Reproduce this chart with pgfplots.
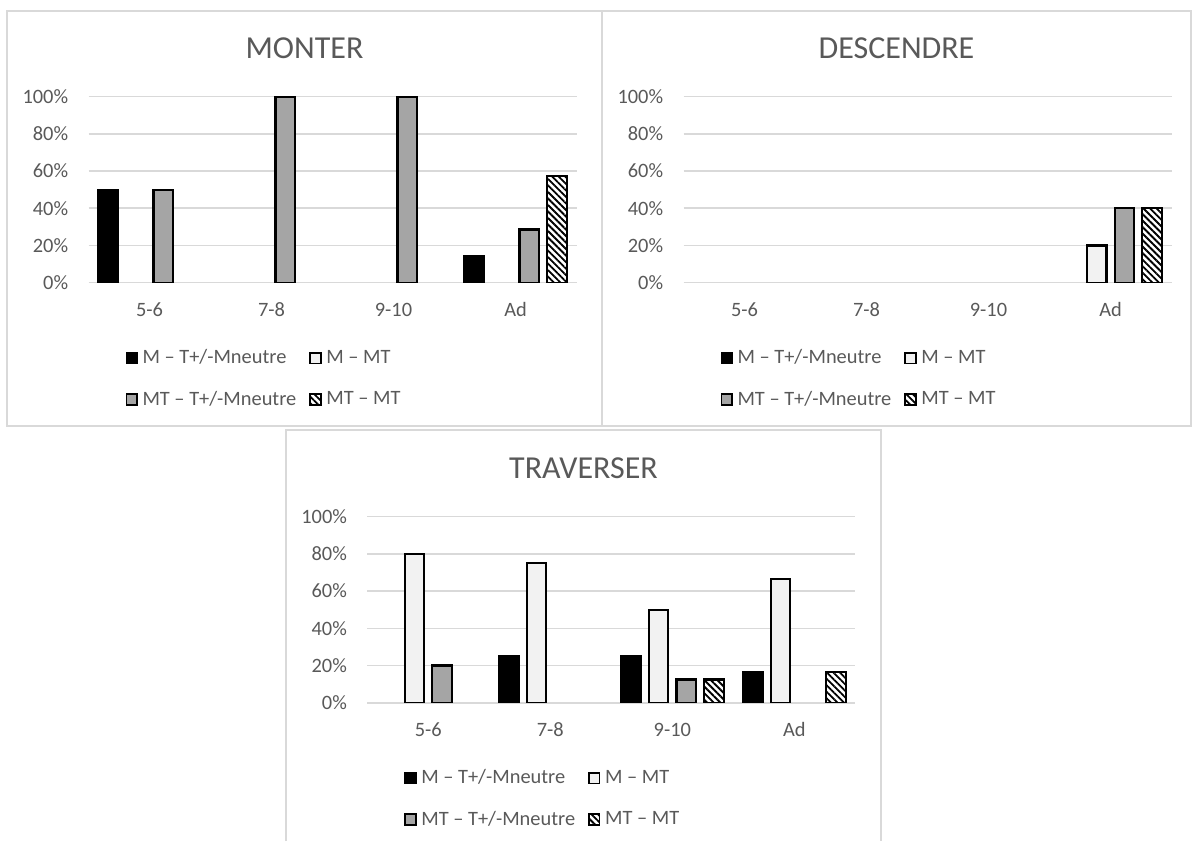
\documentclass[border=0pt]{standalone}
\usepackage{fontspec}
\setmainfont{Carlito}
\usepackage{pgfplots}
\pgfplotsset{compat=1.18}
\usepackage{pgfplotstable}
\usetikzlibrary{patterns.meta}
\definecolor{txt}{HTML}{595959}
\definecolor{grd}{HTML}{D9D9D9}
\definecolor{lgt}{HTML}{F2F2F2}
\definecolor{mid}{HTML}{A5A5A5}

\pgfplotstableread{
x a b c d
0 50 0 50 0
1 0 0 100 0
2 0 0 100 0
3 14.29 0 28.57 57.14
}\monter
\pgfplotstableread{
x a b c d
0 0 0 0 0
1 0 0 0 0
2 0 0 0 0
3 0 20 40 40
}\descendre
\pgfplotstableread{
x a b c d
0 0 80 20 0
1 25 75 0 0
2 25 50 12.5 12.5
3 16.67 66.67 0 16.67
}\traverser

\newcommand{\sm}{\fontsize{10.2bp}{12bp}\selectfont}
\pgfplotsset{
 panel/.style={
  scale only axis, width=244bp, height=93bp, anchor=south west,
  xmin=-0.5, xmax=3.5, ymin=0, ymax=100,
  axis line style={draw=none}, major tick length=0pt,
  xtick={0,1,2,3}, xticklabels={5-6,7-8,9-10,Ad},
  ytick={0,20,40,60,80,100}, yticklabels={0\%,20\%,40\%,60\%,80\%,100\%},
  ymajorgrids, grid style={grd, line width=0.8bp},
  tick label style={font=\sm, text=txt},
  yticklabel style={inner sep=0pt, anchor=east, xshift=-10bp},
  xticklabel style={inner sep=0pt, anchor=base, yshift=-16.9bp},
  unbounded coords=discard,
  restrict y to domain=0.01:1000,
  legend columns=2,
  legend cell align=left,
  legend image code/.code={\draw[##1] (0bp,-2.6bp) rectangle (5.2bp,2.6bp);},
  legend style={at={(rel axis cs:0,0)}, anchor=north west, xshift=18.5bp, yshift=-33.5bp,
    draw=none, fill=none, inner sep=0pt, outer sep=0pt, font=\sm, text=txt,
    row sep=12bp, nodes={inner sep=0pt},
    /tikz/every odd column/.append style={column sep=2.4bp},
    /tikz/every even column/.append style={column sep=6.5bp}},
 },
 common/.style={ybar, bar width=9.8bp, draw=black, line width=1.1bp, forget plot},
 bA/.style={common, fill=black, bar shift=-20.8bp},
 bB/.style={common, fill=lgt, bar shift=-6.94bp},
 bC/.style={common, fill=mid, bar shift=6.94bp},
 bD/.style={common, fill=white, bar shift=20.8bp,
   postaction={pattern={Lines[angle=-45,distance=2.3bp,line width=0.9bp]}}},
}
\newcommand{\legendset}{%
  \addlegendimage{fill=black, draw=black, line width=0.9bp}
  \addlegendentry{M – T+/-Mneutre}
  \addlegendimage{fill=lgt, draw=black, line width=0.9bp}
  \addlegendentry{M – MT}
  \addlegendimage{fill=mid, draw=black, line width=0.9bp}
  \addlegendentry{MT – T+/-Mneutre}
  \addlegendimage{fill=white, draw=black, line width=0.9bp, postaction={pattern={Lines[angle=-45,distance=2.3bp,line width=0.9bp]}}}
  \addlegendentry{MT – MT}%
}

\begin{document}
\begin{tikzpicture}[x=0.5bp, y=0.5bp]
\useasboundingbox (0,0) rectangle (1193,841);
% panel frames
\draw[grd, line width=0.75bp] (7,830) rectangle (602,415);
\draw[grd, line width=0.75bp] (602,830) rectangle (1191,415);
\draw[grd, line width=0.75bp] (286,0) -- (286,411) -- (881,411) -- (881,0);
% titles
\node[text=txt, font=\fontsize{16bp}{19bp}\selectfont] at (304.5,793) {MONTER};
\node[text=txt, font=\fontsize{16bp}{19bp}\selectfont] at (896.5,793) {DESCENDRE};
\node[text=txt, font=\fontsize{16bp}{19bp}\selectfont] at (583.5,373) {TRAVERSER};

\begin{axis}[panel, at={(44.25bp,279.15bp)}]
\addplot[bA] table[x=x,y=a] {\monter};
\addplot[bB] table[x=x,y=b] {\monter};
\addplot[bC] table[x=x,y=c] {\monter};
\addplot[bD] table[x=x,y=d] {\monter};
\legendset
\end{axis}

\begin{axis}[panel, at={(341.75bp,279.15bp)}]
\addplot[bA] table[x=x,y=a] {\descendre};
\addplot[bB] table[x=x,y=b] {\descendre};
\addplot[bC] table[x=x,y=c] {\descendre};
\addplot[bD] table[x=x,y=d] {\descendre};
\legendset
\end{axis}

\begin{axis}[panel, at={(183.65bp,69.15bp)}]
\addplot[bA] table[x=x,y=a] {\traverser};
\addplot[bB] table[x=x,y=b] {\traverser};
\addplot[bC] table[x=x,y=c] {\traverser};
\addplot[bD] table[x=x,y=d] {\traverser};
\legendset
\end{axis}
\end{tikzpicture}
\end{document}
